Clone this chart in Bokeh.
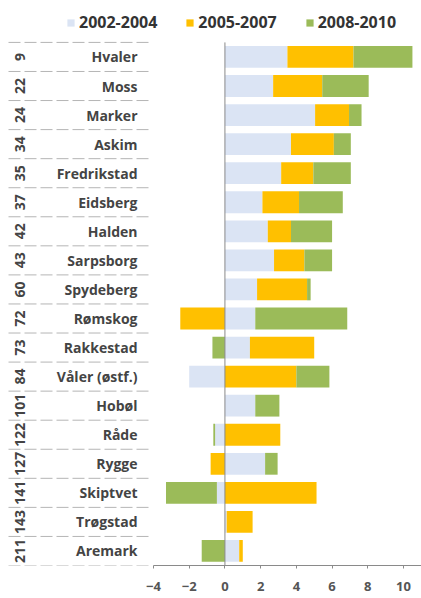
import math
from bokeh.plotting import figure
from bokeh.models import Range1d, FixedTicker, Legend, LegendItem, ColumnDataSource
from bokeh.core.properties import value
from bokeh.embed import file_html
from bokeh.resources import INLINE

# ---------------- data ----------------
names = ["Hvaler", "Moss", "Marker", "Askim", "Fredrikstad", "Eidsberg", "Halden",
         "Sarpsborg", "Spydeberg", "Rømskog", "Rakkestad", "Våler (østf.)", "Hobøl",
         "Råde", "Rygge", "Skiptvet", "Trøgstad", "Aremark"]
ranks = ["9", "22", "24", "34", "35", "37", "42", "43", "60", "72", "73", "84",
         "101", "122", "127", "141", "143", "211"]
series_names = ["2002-2004", "2005-2007", "2008-2010"]
v_2002_2004 = [3.5, 2.7, 5.05, 3.7, 3.15, 2.1, 2.4, 2.75, 1.8, 1.7, 1.4, -2.0,
               1.7, -0.55, 2.25, -0.45, 0.1, 0.8]
v_2005_2007 = [3.7, 2.75, 1.9, 2.4, 1.8, 2.05, 1.3, 1.7, 2.8, -2.5, 3.6, 4.0,
               0.0, 3.1, -0.8, 5.13, 1.45, 0.2]
v_2008_2010 = [3.3, 2.6, 0.7, 0.95, 2.1, 2.45, 2.3, 1.55, 0.2, 5.15, -0.7, 1.85,
               1.35, -0.1, 0.7, -2.85, 0.0, -1.3]
x_ticks = [-4, -2, 0, 2, 4, 6, 8, 10]

colors = ["#dbe4f4", "#ffc000", "#9bbb59"]
FONT = "Open Sans"

# ---------------- geometry ----------------
W, H = 421, 597
frame_h = 565
ppu = 250 / 14.0              # pixels per data unit
x_start = -4 - 153 / ppu
x_end = x_start + W / ppu
n = len(names)
row_px = 29.06
extra_rows = (frame_h - n * row_px) / row_px

def px2x(px):  # pixel -> data x (layout helper for label area)
    return x_start + px / ppu

p = figure(width=W, height=H, output_backend="svg", toolbar_location=None,
           x_range=Range1d(x_start, x_end),
           y_range=Range1d(n - 0.5, -0.5 - extra_rows),
           min_border_left=0, min_border_right=0, min_border_top=0,
           min_border_bottom=H - frame_h)
p.outline_line_color = None
p.grid.visible = False
p.yaxis.visible = False
p.background_fill_color = "white"

ypos = list(range(n))

# excel-like stacking: positives to the right, negatives to the left
pos_cum = [0.0] * n
neg_cum = [0.0] * n
renderers = []
for vals, col in zip([v_2002_2004, v_2005_2007, v_2008_2010], colors):
    lefts, rights = [], []
    for i, v in enumerate(vals):
        if v >= 0:
            lefts.append(pos_cum[i]); rights.append(pos_cum[i] + v); pos_cum[i] += v
        else:
            rights.append(neg_cum[i]); lefts.append(neg_cum[i] + v); neg_cum[i] += v
    src = ColumnDataSource(dict(y=ypos, left=lefts, right=rights))
    r = p.hbar(y="y", left="left", right="right", height=0.75, source=src,
               fill_color=col, line_color=None)
    renderers.append(r)

# zero (category) axis line
p.segment(x0=[0], x1=[0], y0=[n - 0.5], y1=[-0.5], line_color="#8a8a8a", line_width=1)

# table separators in label area
bounds = [k - 0.5 for k in range(n + 1)]
p.segment(x0=[px2x(8)] * len(bounds), x1=[px2x(150)] * len(bounds),
          y0=bounds, y1=bounds, line_color="#b5b5b5", line_width=1, line_dash="12 4")

# category names
p.text(x=[-4] * n, y=ypos, text=names, x_offset=-16, text_align="right",
       text_baseline="middle", text_font=value(FONT), text_font_style="bold",
       text_font_size="14px", text_color="#444444")
# ranks rotated
p.text(x=[-4] * n, y=ypos, text=ranks, x_offset=-134, angle=math.pi / 2,
       text_align="center", text_baseline="middle", text_font=value(FONT),
       text_font_style="bold", text_font_size="14px", text_color="#444444")

# x axis
ax = p.xaxis[0]
ax.ticker = FixedTicker(ticks=x_ticks)
ax.bounds = (-4, x_end)
ax.axis_line_color = "#8a8a8a"
ax.major_tick_line_color = "#8a8a8a"
ax.major_tick_out = 3
ax.major_tick_in = 0
ax.minor_tick_line_color = None
ax.major_label_standoff = 13
ax.major_label_text_font = FONT
ax.major_label_text_font_style = "bold"
ax.major_label_text_font_size = "13px"
ax.major_label_text_color = "#555555"

legend = Legend(items=[LegendItem(label=s, renderers=[r]) for s, r in zip(series_names, renderers)],
                orientation="horizontal", location=(66, frame_h - 33),
                glyph_width=9, glyph_height=9, label_standoff=4, spacing=28,
                padding=0, margin=0, border_line_color=None, background_fill_alpha=0,
                label_text_font=FONT, label_text_font_style="bold",
                label_text_font_size="16px", label_text_color="#333333", label_height=16)
p.add_layout(legend, "center")

open("out.html", "w").write(file_html(p, INLINE))
